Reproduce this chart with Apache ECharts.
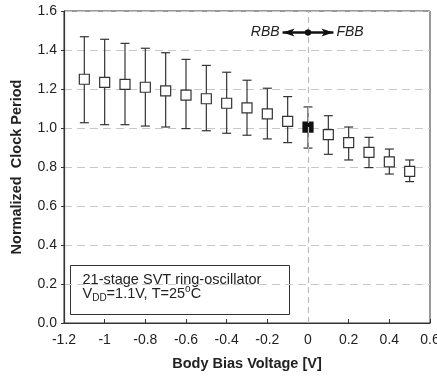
<!DOCTYPE html>
<html>
<head>
<meta charset="utf-8">
<script src="https://cdn.jsdelivr.net/npm/echarts@6/dist/echarts.min.js"></script>
<style>
  html, body { margin: 0; padding: 0; background: #fff; }
  #chart { width: 437px; height: 380px; }
</style>
</head>
<body>
<div id="chart"></div>
<script>
const biasVoltage = [-1.1, -1.0, -0.9, -0.8, -0.7, -0.6, -0.5, -0.4, -0.3, -0.2, -0.1, 0, 0.1, 0.2, 0.3, 0.4, 0.5];
const meanPeriod = [1.25, 1.234, 1.224, 1.209, 1.19, 1.169, 1.15, 1.127, 1.103, 1.072, 1.034, 1.005, 0.966, 0.925, 0.875, 0.826, 0.778];
const upperPeriod = [1.468, 1.455, 1.434, 1.409, 1.386, 1.352, 1.321, 1.286, 1.245, 1.204, 1.161, 1.108, 1.063, 1.005, 0.952, 0.892, 0.836];
const lowerPeriod = [1.027, 1.017, 1.017, 1.010, 1.005, 0.997, 0.986, 0.973, 0.963, 0.944, 0.925, 0.897, 0.865, 0.836, 0.797, 0.764, 0.725];
const arrowY = 1.49;

const font = 'Liberation Sans, Arial, sans-serif';
const ink = '#222';

const errorData = biasVoltage.map((x, i) => [x, lowerPeriod[i], upperPeriod[i]]);
const pointData = biasVoltage.map((x, i) => {
    const item = { value: [x, meanPeriod[i]] };
    if (x === 0) {
        item.itemStyle = { color: '#111', borderColor: '#111' };
    }
    return item;
});

const renderErrorBar = (params, api) => {
    const x = api.value(0);
    const lo = api.coord([x, api.value(1)]);
    const hi = api.coord([x, api.value(2)]);
    const cap = 4.5;
    const style = { stroke: '#333', lineWidth: 1.2 };
    return {
        type: 'group',
        children: [
            { type: 'line', shape: { x1: lo[0], y1: lo[1], x2: hi[0], y2: hi[1] }, style },
            { type: 'line', shape: { x1: hi[0] - cap, y1: hi[1], x2: hi[0] + cap, y2: hi[1] }, style },
            { type: 'line', shape: { x1: lo[0] - cap, y1: lo[1], x2: lo[0] + cap, y2: lo[1] }, style },
        ],
    };
};

const chart = echarts.init(document.getElementById('chart'), null, { renderer: 'canvas' });
chart.setOption({
    animation: false,
    textStyle: { fontFamily: font, color: ink },
    grid: {
        left: 64, right: 7, top: 11, bottom: 57,
        outerBoundsMode: 'none',
        containLabel: false,
        show: true, borderColor: '#333', borderWidth: 1,
    },
    xAxis: {
        type: 'value',
        min: -1.2, max: 0.6, interval: 0.2,
        name: 'Body Bias Voltage [V]',
        nameLocation: 'middle',
        nameGap: 33,
        nameTextStyle: { fontSize: 14.5, fontWeight: 'bold', color: ink, fontFamily: font },
        axisLine: { onZero: false, lineStyle: { color: '#333', width: 1.2 } },
        axisTick: { inside: true, length: 4, lineStyle: { color: '#333' } },
        axisLabel: {
            fontSize: 14, color: ink, margin: 10, showMaxLabel: true,
            formatter: (v) => String(parseFloat(v.toFixed(1))),
        },
        splitLine: { show: false },
    },
    yAxis: {
        type: 'value',
        min: 0, max: 1.6, interval: 0.2,
        name: 'Normalized  Clock Period',
        nameLocation: 'middle',
        nameGap: 40,
        nameTextStyle: { fontSize: 14.5, fontWeight: 'bold', color: ink, fontFamily: font },
        axisLine: { show: true, onZero: false, lineStyle: { color: '#333', width: 1.2 } },
        axisTick: { show: true, length: 3, lineStyle: { color: '#333' } },
        axisLabel: { fontSize: 14, color: ink, margin: 7, formatter: (v) => v.toFixed(1) },
        splitLine: { show: true, lineStyle: { color: '#c8c8c8', type: [8, 5], width: 1 } },
    },
    series: [
        {
            type: 'custom',
            renderItem: renderErrorBar,
            data: errorData,
            encode: { x: 0, y: [1, 2] },
            z: 2,
            silent: true,
            markLine: {
                silent: true,
                symbol: ['none', 'none'],
                label: { show: false },
                lineStyle: { color: '#bbb', type: [6, 4], width: 1.2 },
                data: [[{ coord: [0, 0] }, { coord: [0, 1.6] }]],
            },
        },
        {
            type: 'scatter',
            data: pointData,
            symbol: 'rect',
            symbolSize: 10,
            itemStyle: { color: '#fff', borderColor: '#333', borderWidth: 1.2, opacity: 1 },
            z: 4,
        },
        {
            type: 'scatter',
            data: [],
            z: 5,
            markLine: {
                silent: true,
                symbol: ['circle', 'arrow'],
                symbolSize: [6, 12],
                lineStyle: { color: '#111', type: 'solid', width: 2.5 },
                label: {
                    show: true, position: 'end', distance: 3,
                    fontSize: 14, fontStyle: 'italic', color: ink, fontFamily: font,
                },
                data: [
                    [{ coord: [0, arrowY], name: 'RBB' }, { coord: [-0.125, arrowY] }],
                    [{ coord: [0, arrowY], name: 'FBB' }, { coord: [0.125, arrowY] }],
                ],
            },
        },
    ],
    graphic: [
        {
            type: 'group',
            left: 70,
            top: 265,
            children: [
                {
                    type: 'rect',
                    shape: { x: 0, y: 0, width: 219, height: 49 },
                    style: { fill: '#fff', stroke: '#333', lineWidth: 1 },
                },
                {
                    type: 'text',
                    x: 12, y: 7,
                    style: { text: '21-stage SVT ring-oscillator', font: '14.5px ' + font, fill: ink },
                },
                {
                    type: 'text',
                    x: 12, y: 19,
                    style: {
                        text: '{a|V}{sub|DD}{a|=1.1V, T=25}{sup|o}{a|C}',
                        fill: ink,
                        rich: {
                            a: { fontSize: 14.5, lineHeight: 19, fontFamily: font, color: ink },
                            sub: { fontSize: 10, lineHeight: 10, verticalAlign: 'bottom', fontFamily: font, color: ink },
                            sup: { fontSize: 10, lineHeight: 10, verticalAlign: 'top', fontFamily: font, color: ink },
                        },
                    },
                },
            ],
        },
    ],
});
window.addEventListener('resize', chart.resize);
</script>
</body>
</html>
